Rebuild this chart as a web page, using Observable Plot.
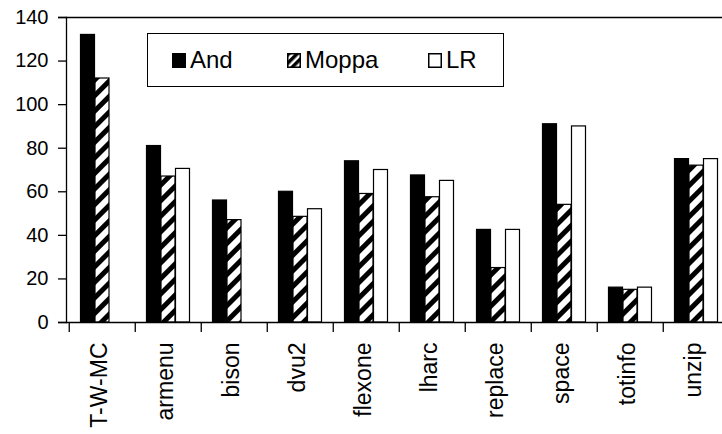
<!DOCTYPE html>
<html>
<head>
<meta charset="utf-8">
<script src="https://cdn.jsdelivr.net/npm/d3@7"></script>
<script src="https://cdn.jsdelivr.net/npm/@observablehq/plot@0.6"></script>
<style>
  html, body { margin: 0; padding: 0; background: #fff; overflow: hidden; width: 722px; height: 434px; }
  #wrap { position: relative; width: 731px; height: 434px; font-family: "Liberation Sans", Arial, sans-serif; }
  #legend { position: absolute; left: 147px; top: 33px; width: 355px; height: 52px; border: 1.5px solid #000; background: #fff; }
  .item { position: absolute; top: 14px; display: flex; align-items: center; font-size: 24px; line-height: 24px; color: #000; }
  .item svg { margin-right: 4px; }
</style>
</head>
<body>
<svg width="0" height="0" style="position:absolute">
  <defs>
    <pattern id="hatch" patternUnits="userSpaceOnUse" width="11" height="11" patternTransform="rotate(-45)">
      <rect width="11" height="11" fill="#fff"></rect>
      <rect width="11" height="5" fill="#000"></rect>
    </pattern>
    <pattern id="hatchSmall" patternUnits="userSpaceOnUse" width="6" height="6" patternTransform="rotate(-45)">
      <rect width="6" height="6" fill="#fff"></rect>
      <rect width="6" height="3.5" fill="#000"></rect>
    </pattern>
  </defs>
</svg>
<div id="wrap"></div>
<script>
const categories = ["T-W-MC", "armenu", "bison", "dvu2", "flexone", "lharc", "replace", "space", "totinfo", "unzip"];
const seriesNames = ["And", "Moppa", "LR"];
const andValues   = [132, 81, 56, 60, 74, 67.5, 42.5, 91, 16, 75];
const moppaValues = [112, 67, 47, 48.5, 59, 57.5, 25, 54, 15, 72];
const lrValues    = [null, 70.5, null, 52, 70, 65, 42.5, 90, 16, 75];
const yTicks = [0, 20, 40, 60, 80, 100, 120, 140];

const seriesFill = {And: "#000", Moppa: "url(#hatch)", LR: "#fff"};
const legendFill = {And: "#000", Moppa: "url(#hatchSmall)", LR: "#fff"};

const valuesBySeries = {And: andValues, Moppa: moppaValues, LR: lrValues};
const rows = [];
seriesNames.forEach(s => {
  valuesBySeries[s].forEach((v, i) => {
    if (v != null) rows.push({category: categories[i], series: s, value: v});
  });
});

const W = 731, H = 434, mL = 66, mR = 0, mT = 17, mB = 112;
const band = (W - mL - mR) / categories.length;
const pad = 11.5;
const barW = (band - 2 * pad) / seriesNames.length;

const barMarks = seriesNames.map((s, k) =>
  Plot.barY(rows.filter(d => d.series === s), {
    x: "category",
    y: "value",
    fill: seriesFill[s],
    stroke: "#000",
    strokeWidth: 1.2,
    insetLeft: pad + k * barW,
    insetRight: band - pad - (k + 1) * barW
  })
);

const chart = Plot.plot({
  width: W,
  height: H,
  marginLeft: mL,
  marginRight: mR,
  marginTop: mT,
  marginBottom: mB,
  style: {fontFamily: "'Liberation Sans', Arial, sans-serif", color: "#000", background: "#fff"},
  x: {domain: categories, padding: 0, axis: null, label: null},
  y: {domain: [0, 140], axis: null, label: null},
  marks: [
    ...barMarks,
    Plot.ruleY([0, 140], {stroke: "#000", strokeWidth: 1.3, insetLeft: -8}),
    Plot.frame({anchor: "left", stroke: "#000", strokeWidth: 1.3}),
    Plot.axisY({ticks: yTicks, tickSize: 8, tickPadding: 10, fontSize: 20, stroke: "#000", strokeWidth: 1.3, label: null}),
    Plot.axisX({ticks: categories, tickSize: 10, tickFormat: () => "", dx: -band / 2, stroke: "#000", strokeWidth: 1.3, label: null}),
    Plot.axisX({ticks: categories, tickSize: 0, tickPadding: 20, tickRotate: -90, fontSize: 23, dx: -3, label: null})
  ]
});

const wrap = document.getElementById("wrap");
wrap.appendChild(chart);

const legend = document.createElement("div");
legend.id = "legend";
const itemLeft = [24, 139, 280];
seriesNames.forEach((s, k) => {
  const item = document.createElement("div");
  item.className = "item";
  item.style.left = itemLeft[k] + "px";
  item.innerHTML = `<svg width="14" height="15"><rect x="0.75" y="0.75" width="12.5" height="13.5" fill="${legendFill[s]}" stroke="#000" stroke-width="1.5"></rect></svg><span>${s}</span>`;
  legend.appendChild(item);
});
wrap.appendChild(legend);
</script>
</body>
</html>
